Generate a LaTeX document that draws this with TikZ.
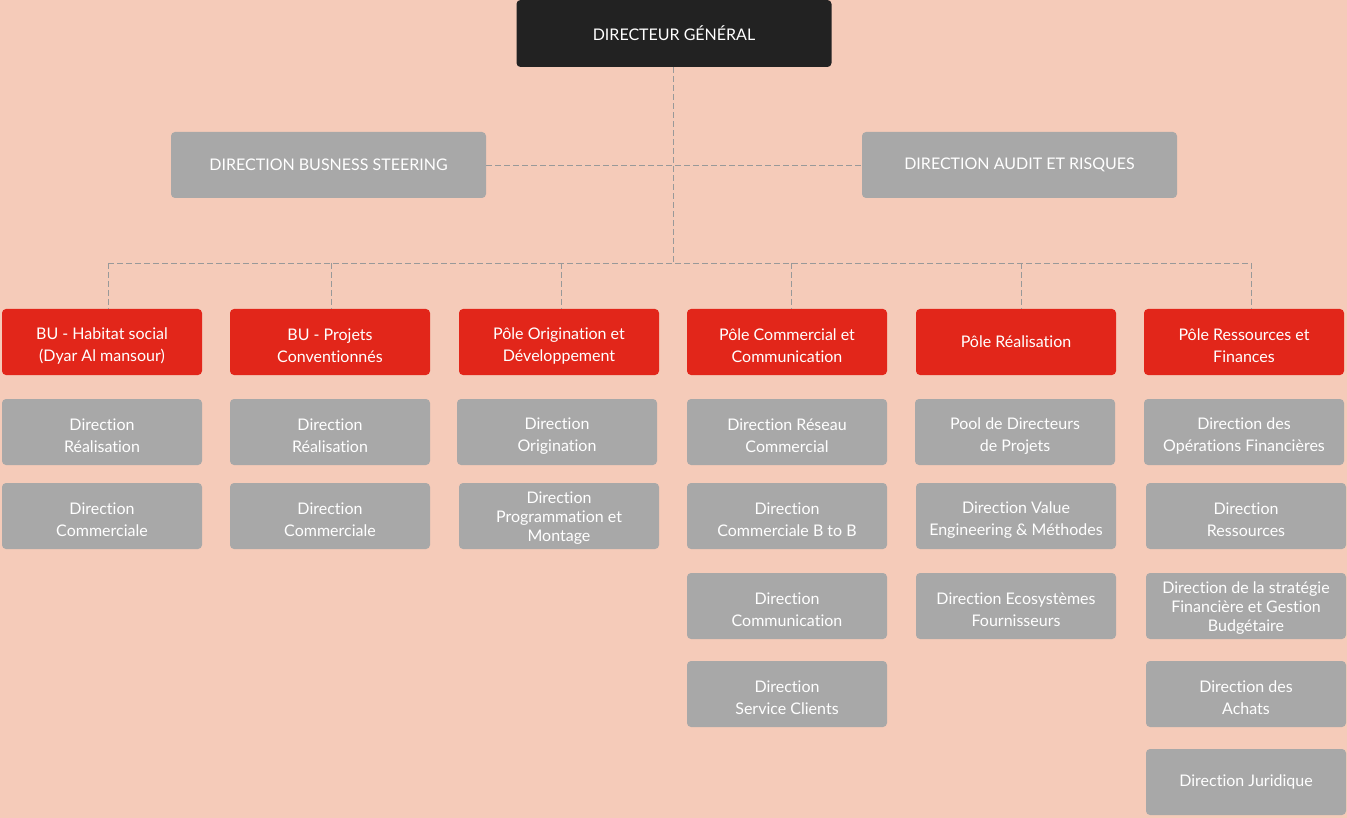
\documentclass[tikz,border=0pt]{standalone}
\usepackage{fontspec}
\setmainfont[Ligatures=NoCommon]{Lato}
\usepackage{tikz}
\definecolor{mybg}{HTML}{F5CBB9}
\definecolor{myred}{HTML}{E2261A}
\definecolor{mygray}{HTML}{A8A8A8}
\definecolor{mydark}{HTML}{222222}
\definecolor{mylink}{HTML}{999999}
\tikzset{
  box/.style={rounded corners=4pt, minimum width=200pt, minimum height=66pt,
    inner sep=2pt, align=center, text=white,
    font=\fontsize{16}{22}\selectfont},
  graybox/.style={box, text height=41.5pt, fill=mygray},
  redbox/.style={box, text height=41.5pt, fill=myred},
  tight/.style={font=\fontsize{16}{19}\selectfont, text height=54pt},
  link/.style={mylink, line width=0.8pt, dash pattern=on 6pt off 3pt},
}

\begin{document}
\begin{tikzpicture}[x=1pt, y=-1pt]
    % background
    \fill[mybg] (0,0) rectangle (1347,818);
    \useasboundingbox (0,0) rectangle (1347,818);

    % top level
    \node[box, fill=mydark, minimum width=315pt, minimum height=67pt] (dg) at (674,33.5)
      {DIRECTEUR GÉNÉRAL};
    \node[box, fill=mygray, minimum width=315pt] (steer) at (328.5,165)
      {DIRECTION BUSNESS STEERING};
    \node[box, fill=mygray, minimum width=315pt] (audit) at (1019.5,165)
      {DIRECTION AUDIT ET RISQUES};

    % BU Habitat social
    \node[redbox] (bu1) at (102,342) {BU - Habitat social\\(Dyar Al mansour)};
    \node[graybox] (bu1a) at (102,432) {Direction\\Réalisation};
    \node[graybox] (bu1b) at (102,516) {Direction\\Commerciale};

    % BU Projets
    \node[redbox] (bu2) at (330,342) {BU - Projets\\Conventionnés};
    \node[graybox] (bu2a) at (330,432) {Direction\\Réalisation};
    \node[graybox] (bu2b) at (330,516) {Direction\\Commerciale};

    % Pole Origination
    \node[redbox] (orig) at (559,342) {Pôle Origination et\\Développement};
    \node[graybox] (origa) at (557,432) {Direction\\Origination};
    \node[graybox, tight] (origb) at (559,516) {Direction\\Programmation et\\Montage};

    % Pole Commercial
    \node[redbox] (comm) at (787,342) {Pôle Commercial et\\Communication};
    \node[graybox] (comma) at (787,432) {Direction Réseau\\Commercial};
    \node[graybox] (commb) at (787,516) {Direction\\Commerciale B to B};
    \node[graybox] (commc) at (787,606) {Direction\\Communication};
    \node[graybox] (commd) at (787,694) {Direction\\Service Clients};

    % Pole Realisation
    \node[box, fill=myred] (real) at (1016,342) {Pôle Réalisation};
    \node[graybox] (reala) at (1015,432) {Pool de Directeurs\\de Projets};
    \node[graybox] (realb) at (1016,516) {Direction Value\\Engineering \& Méthodes};
    \node[graybox] (realc) at (1016,606) {Direction Ecosystèmes\\Fournisseurs};

    % Pole Ressources
    \node[redbox] (res) at (1244,342) {Pôle Ressources et\\Finances};
    \node[graybox] (resa) at (1244,432) {Direction des\\Opérations Financières};
    \node[graybox] (resb) at (1246,516) {Direction\\Ressources};
    \node[graybox, tight] (resc) at (1246,606)
      {Direction de la stratégie\\Financière et Gestion\\Budgétaire};
    \node[graybox] (resd) at (1246,694) {Direction des\\Achats};
    \node[box, fill=mygray] (rese) at (1246,782) {Direction Juridique};

    % dashed links
    \coordinate (split) at (673,263);
    \coordinate (railL) at (108,263);
    \coordinate (railR) at (1251,263);
    \draw[link] (dg.south -| split) -- (split);
    \draw[link] (steer.east) -- (audit.west);
    \draw[link] (railL) -- (railR);
    \foreach \n/\xx in {bu1/108, bu2/331, orig/561, comm/791, real/1021, res/1251} {
      \draw[link] (\xx,263) -- (\xx,0 |- \n.north);
    }
\end{tikzpicture}
\end{document}
